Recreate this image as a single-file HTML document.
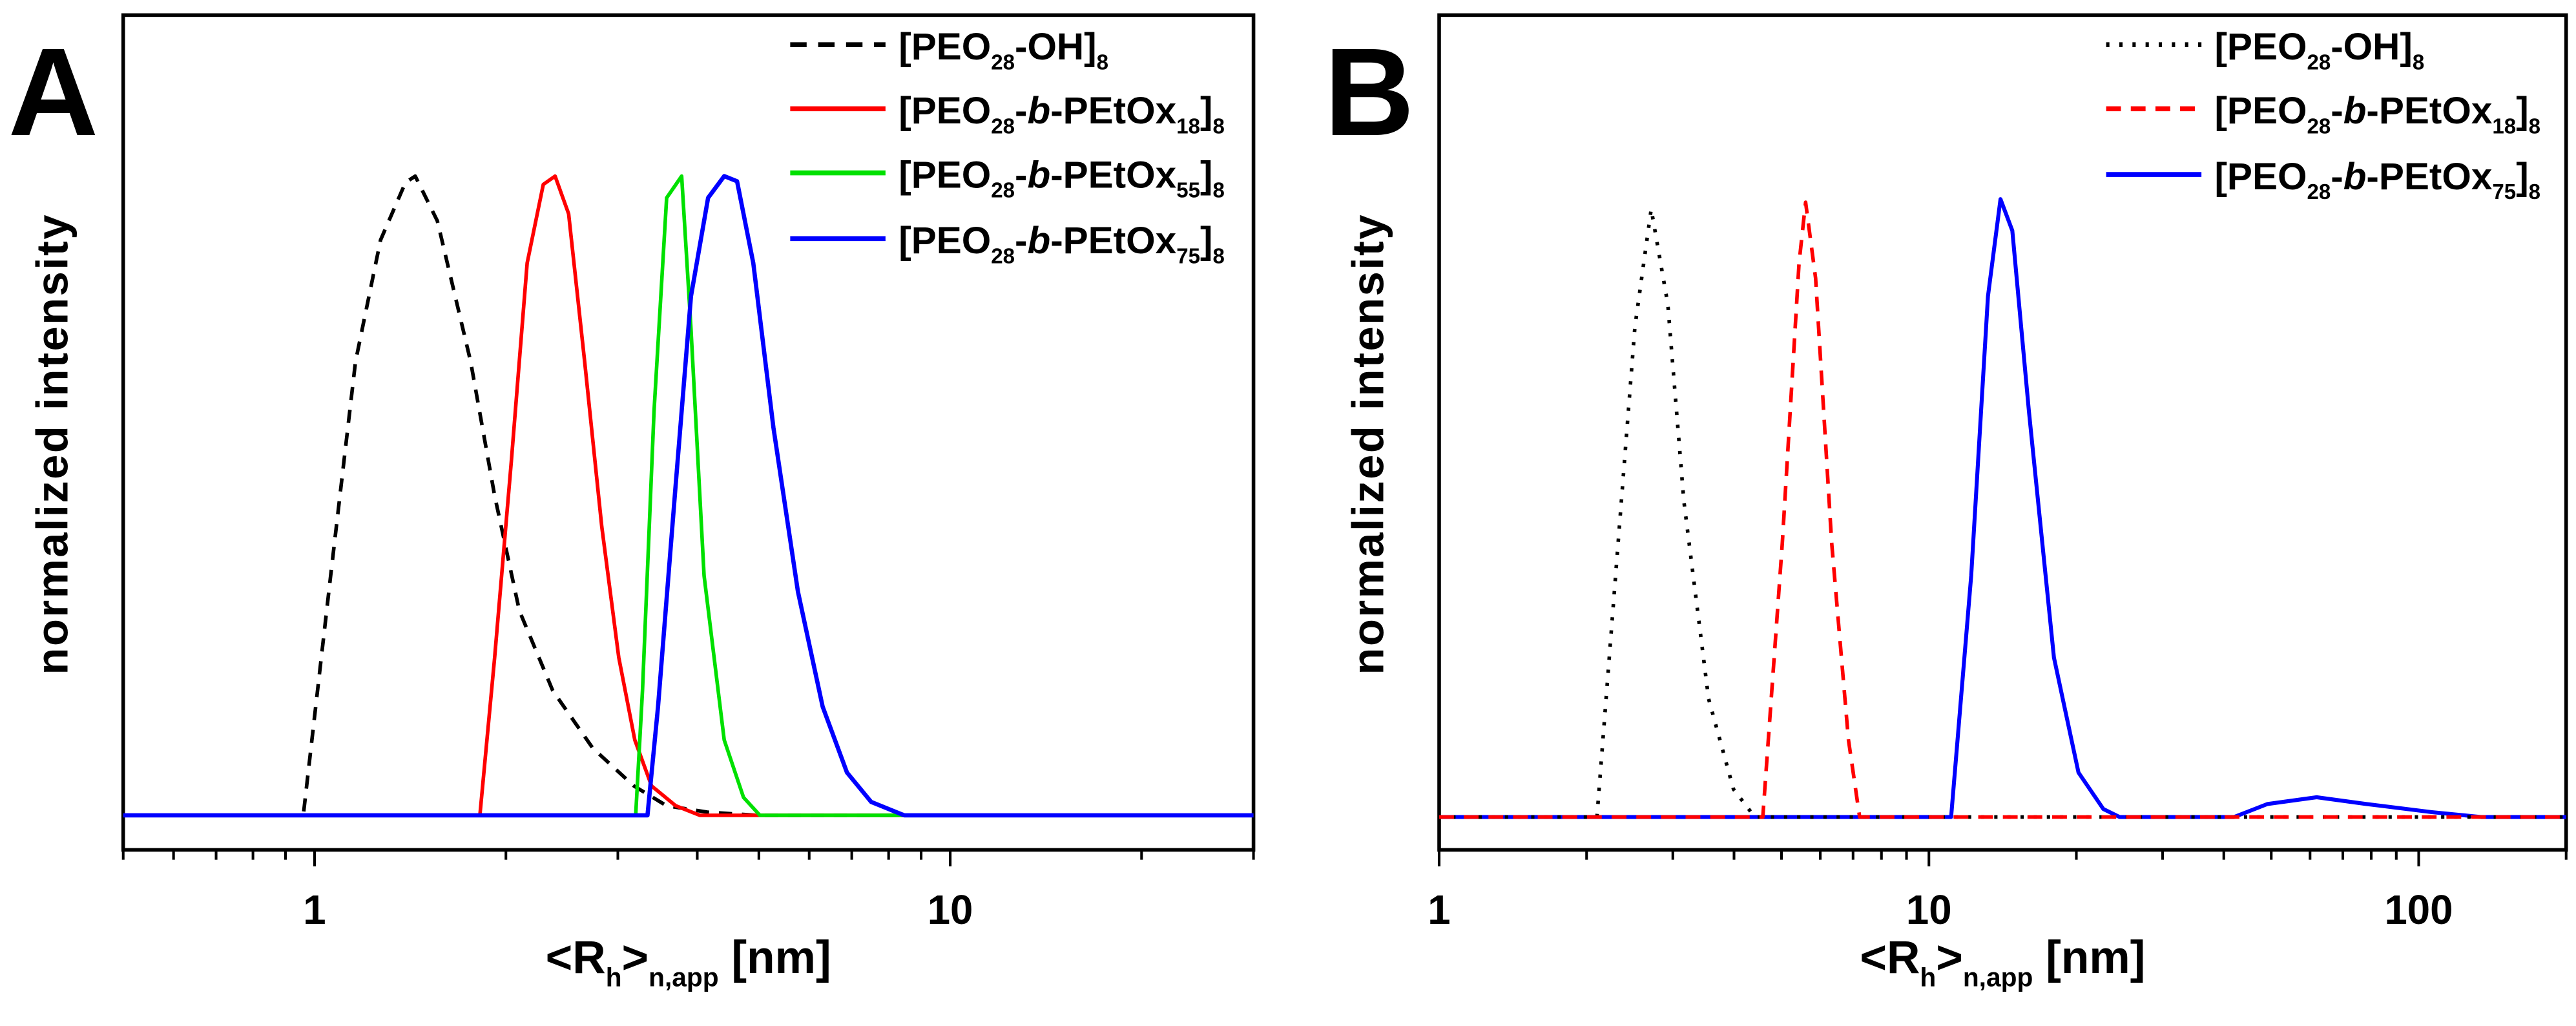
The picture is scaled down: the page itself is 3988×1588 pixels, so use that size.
<!DOCTYPE html>
<html><head><meta charset="utf-8">
<style>
html,body{margin:0;padding:0;background:#fff;}
svg{display:block;font-family:"Liberation Sans",sans-serif;}
</style></head>
<body>
<svg id="fig" width="3988" height="1588" viewBox="0 0 1568 624" xmlns="http://www.w3.org/2000/svg">
<g id="panelA"></g>
<g id="panelB"></g>
</svg>
<script>
// ---- Panel A data ----
const aBlackX = [0.5,0.96,1.06,1.16,1.27,1.39,1.44,1.56,1.76,1.92,2.10,2.37,2.74,3.18,3.58,4.15,4.97,30];
const aBlackY = [0,0,0.375,0.71,0.90,0.99,1,0.93,0.71,0.50,0.32,0.195,0.105,0.046,0.015,0.005,0,0];
const aRedX = [0.5,1.82,1.92,2.04,2.16,2.29,2.39,2.51,2.66,2.83,3.01,3.19,3.39,3.70,4.04,30];
const aRedY = [0,0,0.247,0.555,0.864,0.987,1,0.941,0.710,0.452,0.247,0.118,0.046,0.015,0,0];
const aGreenX = [0.5,3.20,3.28,3.42,3.58,3.78,3.91,4.10,4.41,4.73,5.02,30];
const aGreenY = [0,0,0.195,0.632,0.966,1,0.761,0.375,0.118,0.028,0,0];
const aBlueX = [0.5,3.34,3.47,3.69,3.91,4.16,4.41,4.62,4.90,5.27,5.76,6.30,6.88,7.51,8.47,30];
const aBlueY = [0,0,0.170,0.504,0.812,0.966,1,0.992,0.864,0.607,0.350,0.170,0.067,0.021,0,0];
const aTicks = [1,10];
const aTickLabels = ["1","10"];
// ---- Panel B data ----
const bBlackX = [1,2.10,2.32,2.51,2.71,2.93,3.16,3.55,3.99,4.41,200];
const bBlackY = [0,0,0.444,0.793,0.984,0.830,0.511,0.191,0.045,0,0];
const bRedX = [1,4.58,5.02,5.43,5.6,5.87,6.33,6.85,7.22,200];
const bRedY = [0,0,0.444,0.896,0.995,0.872,0.444,0.125,0,0];
const bBlueX = [1,11.1,12.2,13.2,14.0,14.8,16.0,18.0,20.2,22.7,24.5,42.0,49.1,61.9,78.2,106,134,200];
const bBlueY = [0,0,0.391,0.843,1,0.949,0.657,0.258,0.072,0.013,0,0,0.021,0.032,0.021,0.008,0,0];
const bTicks = [1,10,100];
const bTickLabels = ["1","10","100"];

const NS="http://www.w3.org/2000/svg";
function mk(parent,tag,attrs){const e=document.createElementNS(NS,tag);for(const k in attrs)e.setAttribute(k,attrs[k]);parent.appendChild(e);return e;}

function panel(g,cfg){
  const {left,right,top,bottom,xmin,xmax,base,peak}=cfg;
  const lx=v=>left+(right-left)*(Math.log10(v)-Math.log10(xmin))/(Math.log10(xmax)-Math.log10(xmin));
  const ly=v=>base-(base-peak)*v;
  // frame
  const fr=mk(g,'rect',{x:left,y:top,width:right-left,height:bottom-top,fill:'none',stroke:'#000','stroke-width':2.2});
  
  
  // ticks
  const lo=Math.floor(Math.log10(xmin)), hi=Math.ceil(Math.log10(xmax));
  for(let d=lo;d<=hi;d++){for(let m=1;m<10;m++){const v=m*Math.pow(10,d);if(v<xmin-1e-9||v>xmax+1e-9)continue;
    const x=lx(v);const t=mk(g,'line',{x1:x,x2:x,y1:bottom,y2:bottom+(m===1?10:6),stroke:'#000','stroke-width':1.6});
    
    }}
  cfg.ticks.forEach((v,i)=>{const t=mk(g,'text',{x:lx(v),y:562,'text-anchor':'middle','font-size':25,'font-weight':'bold'});
    t.textContent=cfg.tickLabels[i];
    
    });
  // series
  cfg.series.forEach(s=>{
    const d=s.x.map((v,i)=>(i?'L':'M')+lx(v).toFixed(2)+','+ly(s.y[i]).toFixed(2)).join(' ');
    const p=mk(g,'path',{d:d,fill:'none',stroke:s.color,'stroke-width':s.w||2.2,'stroke-linejoin':'round'});
    if(s.dash)p.setAttribute('stroke-dasharray',s.dash);
    
    
  });
  // legend
  cfg.legend.forEach((L,i)=>{
    const y=cfg.legY[i];
    const ln=mk(g,'line',{x1:cfg.legX,x2:cfg.legX+58,y1:y,y2:y,stroke:L.color,'stroke-width':3});
    if(L.dash)ln.setAttribute('stroke-dasharray',L.dash);
    
    
    const t=mk(g,'text',{x:cfg.legX+66,y:y+9,'font-size':23,'font-weight':'bold'});
    t.innerHTML=L.html;
    
    
  });
  // axis titles
  const xt=mk(g,'text',{x:(left+right)/2,y:592,'text-anchor':'middle','font-size':28,'font-weight':'bold'});
  xt.innerHTML='&lt;R<tspan font-size="16" dy="8">h</tspan><tspan dy="-8">&gt;</tspan><tspan font-size="16" dy="8">n,app</tspan><tspan dy="-8"> [nm]</tspan>';
  
  
  const yt=mk(g,'text',{x:0,y:0,'text-anchor':'middle','font-size':27,'font-weight':'bold',transform:`translate(${left-34},270) rotate(-90)`,'letter-spacing':'1'});
  yt.textContent='normalized intensity';
  
  
  const pl=mk(g,'text',{x:left-70,y:82,'font-size':76,'font-weight':'bold'});
  pl.textContent=cfg.label;
  
  
}
const sub=(s)=>`<tspan font-size="13" dy="6">${s}</tspan><tspan dy="-6">`;
const lbl=(n)=>`[PEO${sub('28')}-<tspan font-style="italic">b</tspan>-PEtOx${sub(n)}]${sub('8')}</tspan></tspan></tspan>`;
const lblOH=`[PEO${sub('28')}-OH]${sub('8')}</tspan></tspan>`;

panel(document.getElementById('panelA'),{left:75,right:763,top:9,bottom:517,xmin:0.5,xmax:30,base:496,peak:107,
  ticks:aTicks,tickLabels:aTickLabels,label:'A',
  series:[
    {name:'series-peo-oh',x:aBlackX,y:aBlackY,color:'#000',dash:'8 6'},
    {name:'series-petox18',x:aRedX,y:aRedY,color:'#ff0000'},
    {name:'series-petox55',x:aGreenX,y:aGreenY,color:'#00e000'},
    {name:'series-petox75',x:aBlueX,y:aBlueY,color:'#0000ff',w:2.6}],
  legX:481,legY:[27,66,105,145],
  legend:[{color:'#000',dash:'10 7',html:lblOH},{color:'#ff0000',html:lbl('18')},{color:'#00e000',html:lbl('55')},{color:'#0000ff',html:lbl('75')}]
});
panel(document.getElementById('panelB'),{left:876,right:1562,top:9,bottom:517,xmin:1,xmax:200,base:497,peak:121,
  ticks:bTicks,tickLabels:bTickLabels,label:'B',
  series:[
    {name:'series-petox75',x:bBlueX,y:bBlueY,color:'#0000ff',w:2.4},
    {name:'series-peo-oh',x:bBlackX,y:bBlackY,color:'#000',dash:'2 6'},
    {name:'series-petox18',x:bRedX,y:bRedY,color:'#ff0000',dash:'9 6'}],
  legX:1282,legY:[27,66,106],
  legend:[{color:'#000',dash:'2 6',html:lblOH},{color:'#ff0000',dash:'9 6',html:lbl('18')},{color:'#0000ff',html:lbl('75')}]
});
</script>
</body></html>
